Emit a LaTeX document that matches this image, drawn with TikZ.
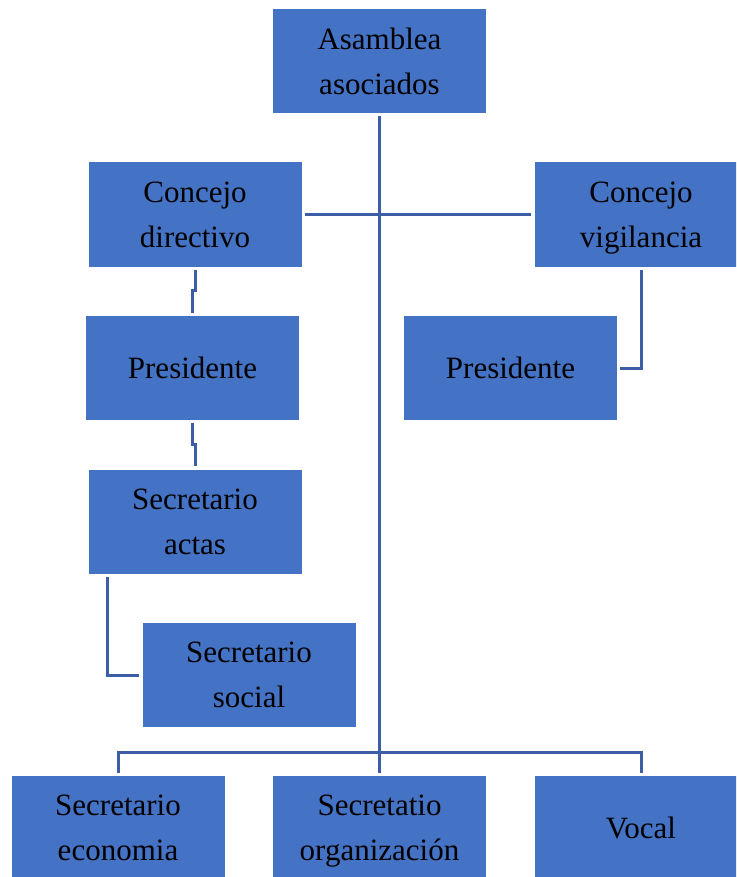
\documentclass[tikz,border=0pt]{standalone}
\usepackage{fontspec}
\setmainfont{Liberation Serif}
\definecolor{cajaazul}{HTML}{4472C4}
\definecolor{lineaazul}{HTML}{3B5EA6}

\begin{document}
\begin{tikzpicture}[x=1pt,y=-1pt,
    cargo/.style={fill=cajaazul, minimum width=213pt, minimum height=104pt,
        inner sep=0pt, align=center, font=\fontsize{31}{45}\selectfont},
    enlace/.style={draw=lineaazul, line width=3pt, shorten <=3pt, shorten >=3pt}]
    \useasboundingbox (0,0) rectangle (736,877);
    \clip (0,0) rectangle (736,877);

    \node[cargo] (asamblea) at (379.5,61) {Asamblea\\asociados};
    \node[cargo] (directivo) at (195,214.5) {Concejo\\directivo};
    \node[cargo] (vigilancia) at (641,214.5) {Concejo\\\smash{vigilancia}};
    \node[cargo] (presdir) at (192.5,368) {Presidente};
    \node[cargo] (presvig) at (510.5,368) {Presidente};
    \node[cargo] (actas) at (195,521.5) {Secretario\\actas};
    \node[cargo] (social) at (249,675) {Secretario\\social};
    \node[cargo] (economia) at (118,828) {Secretario\\economia};
    \node[cargo] (organizacion) at (379.5,828) {Secretatio\\\smash{organizaci\'on}};
    \node[cargo] (vocal) at (641,828) {Vocal};

    \coordinate (bus) at (379.5,752);

    \draw[enlace] (asamblea.south) -- (organizacion.north);
    \draw[enlace] (directivo.east) -- (vigilancia.west);
    \draw[enlace] (economia.north) |- (bus) -| (vocal.north);
    \draw[enlace] (directivo.south) -- ++(0,24) -| (presdir.north);
    \draw[enlace] (presdir.south) -- ++(0,24) -| (actas.north);
    \draw[enlace] ([xshift=19pt]actas.south west) |- (social.west);
    \draw[enlace] (vigilancia.south) |- (presvig.east);
\end{tikzpicture}
\end{document}
